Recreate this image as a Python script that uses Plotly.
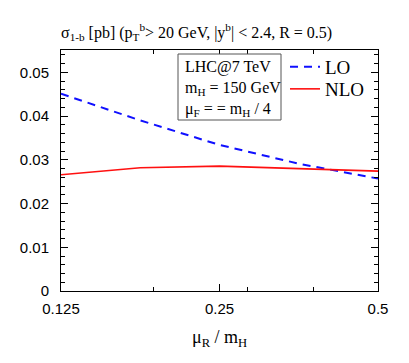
import plotly.graph_objects as go

mu_r = [0.125, 0.1768, 0.25, 0.3536, 0.5]
lo = [0.0451, 0.0390, 0.0334, 0.0291, 0.0257]
nlo = [0.02658, 0.02817, 0.02854, 0.0279, 0.0274]

x_ticks = [0.125, 0.25, 0.5]
x_ticktext = ["0.125", "0.25", "0.5"]
x_minor = [0.1875, 0.2823, 0.377]
y_ticks = [0, 0.01, 0.02, 0.03, 0.04, 0.05]
y_ticktext = ["0", "0.01", "0.02", "0.03", "0.04", "0.05"]

serif = "Liberation Serif, Times New Roman, serif"
sans = "Liberation Sans, Arial, sans-serif"

L, R, T, B = 61, 31, 50, 72
PW, PH = 409 - L - R, 363 - T - B


def px(x):
    return (x - L) / PW


def py(y):
    return (363 - B - y) / PH


fig = go.Figure()
fig.add_trace(go.Scatter(x=mu_r, y=lo, mode="lines", name="LO", legend="legend",
                         line=dict(color="#1010ff", width=2, dash="8px,6px")))
fig.add_trace(go.Scatter(x=mu_r, y=nlo, mode="lines", name="NLO", legend="legend2",
                         line=dict(color="#ff1010", width=1.6)))

leg_common = dict(xanchor="left", yanchor="middle", bgcolor="rgba(0,0,0,0)",
                  font=dict(family=serif, size=19), itemwidth=30, borderwidth=0)
fig.update_layout(
    width=409, height=363, autosize=False,
    margin=dict(l=L, r=R, t=T, b=B),
    paper_bgcolor="white", plot_bgcolor="white",
    font=dict(family=sans, size=15, color="black"),
    legend=dict(x=px(285), y=py(67), **leg_common),
    legend2=dict(x=px(285), y=py(89), **leg_common),
    showlegend=True,
)
fig.update_xaxes(type="log", range=[-0.90309, -0.30103], tickvals=x_ticks, ticktext=x_ticktext,
                 ticks="inside", ticklen=7, tickcolor="black", showline=True, linecolor="black",
                 linewidth=1, mirror="allticks", showgrid=False, zeroline=False, ticklabelstandoff=4,
                 minor=dict(tickvals=x_minor, ticks="inside", ticklen=4, tickcolor="black", showgrid=False))
fig.update_yaxes(range=[0, 0.0551], tickvals=y_ticks, ticktext=y_ticktext,
                 ticks="inside", ticklen=7, tickcolor="black", showline=True, linecolor="black",
                 linewidth=1, mirror="allticks", showgrid=False, zeroline=False, ticklabelstandoff=8,
                 minor=dict(dtick=0.002, ticks="inside", ticklen=4, tickcolor="black", showgrid=False))

# title and axis title
fig.add_annotation(text="σ<sub>1-b</sub> [pb] (p<sub>T</sub><sup>b</sup>&gt; 20 GeV, |y<sup>b</sup>| &lt; 2.4, R = 0.5)",
                   xref="paper", yref="paper", x=px(59), y=py(32), xanchor="left", yanchor="middle",
                   align="left", showarrow=False, font=dict(family=serif, size=16, color="black"))
fig.add_annotation(text="μ<sub>R</sub> / m<sub>H</sub>",
                   xref="paper", yref="paper", x=px(219), y=py(338), xanchor="center", yanchor="middle",
                   showarrow=False, font=dict(family=serif, size=18, color="black"))

# info box
fig.add_shape(type="rect", xref="paper", yref="paper", x0=px(178), x1=px(281),
              y0=py(120), y1=py(54), line=dict(color="#555555", width=1), fillcolor="white", layer="above")
for txt, yy in [("LHC@7 TeV", 66.5), ("m<sub>H</sub> = 150 GeV", 88), ("μ<sub>F</sub> = = m<sub>H</sub> / 4", 109.5)]:
    fig.add_annotation(text=txt, xref="paper", yref="paper", x=px(183), y=py(yy),
                       xanchor="left", yanchor="middle", align="left", showarrow=False,
                       font=dict(family=serif, size=16, color="black"))

fig.write_html("out.html", config={"displayModeBar": False},
               post_script="document.body.style.margin='0';")
